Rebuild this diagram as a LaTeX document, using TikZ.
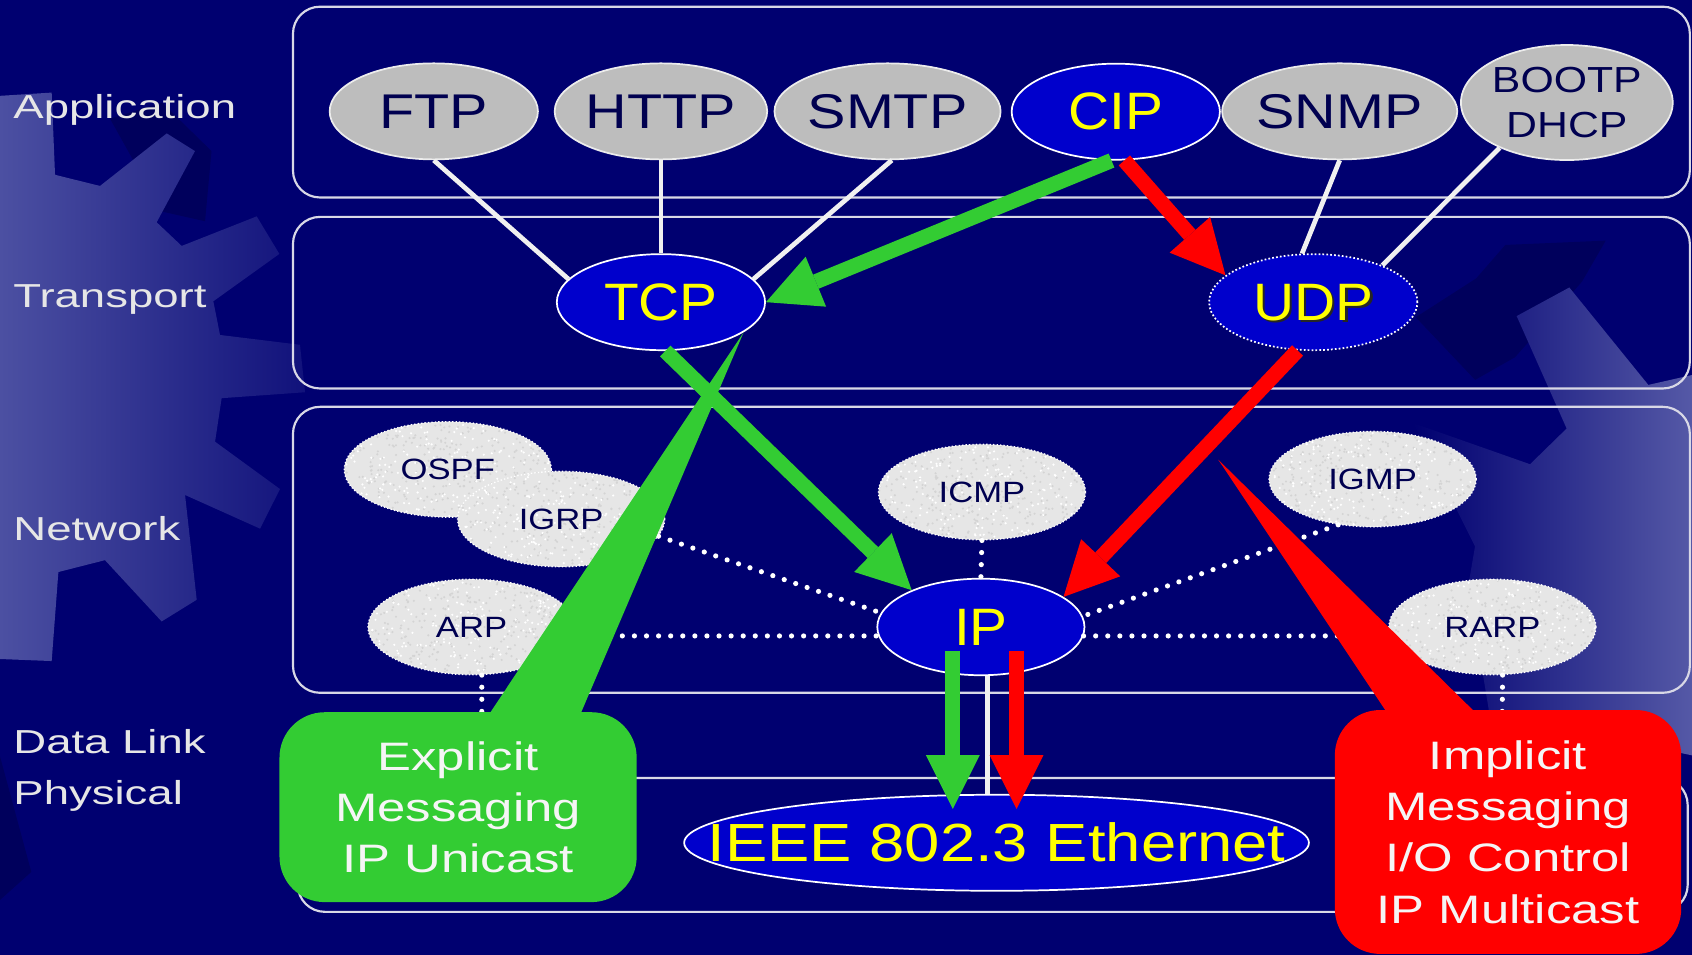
\documentclass[tikz,border=0pt]{standalone}
\usepackage{fontspec}
\setmainfont{Liberation Sans}
\newfontfamily\lblfont{Liberation Sans}[FakeStretch=1.37]
\newfontfamily\protofont{Liberation Sans}[FakeStretch=1.18]
\newfontfamily\corefont{Liberation Sans}[FakeStretch=1.08]
\newfontfamily\notefont{Liberation Sans}[FakeStretch=1.28]
\usetikzlibrary{shapes.geometric,arrows.meta,calc}

\definecolor{bg}{HTML}{000070}
\definecolor{bgdark}{HTML}{00005C}
\definecolor{gearlight}{HTML}{4C50A2}
\definecolor{framecol}{HTML}{D8D8E6}
\definecolor{appgray}{HTML}{BDBDBD}
\definecolor{netgray}{HTML}{E6E6E6}
\definecolor{corefill}{HTML}{0000CC}
\definecolor{navytext}{HTML}{000050}
\definecolor{grn}{HTML}{33CC33}
\definecolor{rd}{HTML}{FF0000}
\definecolor{ylw}{HTML}{FFFF00}
\definecolor{lblcol}{HTML}{E6E6E6}

% granite-like speckle inside a network protocol ellipse
\newcommand{\granite}[1]{%
  \begin{scope}
    \clip (#1.center) ellipse [x radius=47.6pt, y radius=21.8pt];
    \foreach \k in {1,...,320}{
      \fill[gray!34] ($(#1.center)+(rand*48pt,rand*22pt)$) circle [radius=0.55pt];
    }
    \foreach \k in {1,...,220}{
      \fill[white] ($(#1.center)+(rand*48pt,rand*22pt)$) circle [radius=0.55pt];
    }
  \end{scope}}

\begin{document}
\begin{tikzpicture}[x=0.5pt,y=-0.5pt,
  layerbox/.style={draw=framecol, line width=1pt, rounded corners=12.5pt},
  layerlabel/.style={text=lblcol, inner sep=0pt, anchor=base west,
    font=\lblfont\fontsize{15.4}{18}\selectfont},
  app/.style={ellipse, fill=appgray, draw=white!85!gray, line width=0.8pt,
    inner sep=0pt, minimum width=96.5pt, minimum height=44.5pt, text=navytext,
    font=\protofont\fontsize{22.6}{24}\selectfont},
  core/.style={ellipse, fill=corefill, draw=white, line width=0.8pt,
    inner sep=0pt, minimum width=96.5pt, minimum height=44.5pt, text=ylw,
    font=\corefont\fontsize{24.4}{26}\selectfont},
  coretext/.style={text=ylw, inner sep=0pt, font=\corefont\fontsize{24.4}{26}\selectfont},
  net/.style={ellipse, fill=netgray, draw=white, densely dotted, line width=0.6pt,
    inner sep=0pt, minimum width=96pt, minimum height=44.25pt},
  nettext/.style={text=navytext, inner sep=0pt, font=\protofont\fontsize{13.6}{15}\selectfont},
  ethtext/.style={text=ylw, inner sep=0pt, font=\protofont\fontsize{24.9}{26}\selectfont},
  wire/.style={draw=white!88!gray, line width=2.2pt},
  dotline/.style={draw=white, line width=2.4pt, line cap=round, dash pattern=on 0pt off 5.6pt},
  garrow/.style={draw=grn, line width=7pt,
    -{Triangle[length=25pt,width=25pt,line width=0pt]}},
  rarrow/.style={draw=rd, line width=7pt,
    -{Triangle[length=25pt,width=25pt,line width=0pt]}},
  note/.style={rounded corners=21pt, inner sep=0pt, align=center,
    text=white!92!gray, font=\notefont\fontsize{18.4}{23.75}\selectfont}
]
\pgfmathsetseed{4711}
\useasboundingbox (0,0) rectangle (1568,885);

% background and gear decoration
\fill[bg] (0,0) rectangle (1568,885);
\fill[bgdark] (1368,258) -- (1395,227) -- (1488,223) -- (1466,261) -- (1404,331)
  -- (1367,352) -- (1312,294) -- cycle;
\fill[bgdark] (0,701) -- (29,808) -- (0,834) -- cycle;
\fill[bgdark] (102,110) -- (150,95) -- (196,140) -- (190,205) -- (150,196) -- cycle;
\shade[left color=gearlight, right color=gearlight!22!bg]
  (0,88.8) -- (47.9,85.8) -- (51.0,162.0) -- (92.7,172.3) -- (154.5,123.6)
  -- (180.7,140.0) -- (145.2,206.0) -- (168.4,227.9) -- (237.9,200.5)
  -- (258.9,235.3) -- (197.7,279.2) -- (203.9,310.4) -- (278.0,319.5)
  -- (282.7,363.5) -- (205.4,369.0) -- (199.3,409.3) -- (259.5,453.2)
  -- (241.0,489.9) -- (171.5,458.7) -- (182.3,555.8) -- (149.8,575.9)
  -- (97.3,519.1) -- (54.1,530.1) -- (47.9,612.6) -- (0,610.7) -- cycle;
\shade[left color=bg, right color=gearlight!95!white]
  (1405.5,292.9) -- (1454.3,266.4) -- (1527.5,356.7) -- (1568,347.5)
  -- (1568,700) -- (1380,660) -- (1360.7,542.7) -- (1366.9,506.3)
  -- (1309.7,392.1) -- (1417.9,430.2) -- (1451.8,397.1) -- cycle;

% layer frames
\draw[layerbox] (271.5,6.2) rectangle (1566,183);
\draw[layerbox] (271.5,201) rectangle (1566,360);
\draw[layerbox] (271.5,377) rectangle (1566,642);
\draw[layerbox] (276,721) rectangle (1564,845);

% layer names
\node[layerlabel] (lApp) at (12,109.6) {Application};
\node[layerlabel] (lTra) at (12,284.7) {Transport};
\node[layerlabel] (lNet) at (12,500.8) {Network};
\node[layerlabel] (lDat) at (12,698.1) {Data Link};
\node[layerlabel] (lPhy) at (12,745.1) {Physical};

% application protocols
\node[app] (FTP) at (402,103.2) {FTP};
\node[app] (HTTP) at (612.5,103.2) {HTTP};
\node[app] (SMTP) at (822.5,103.2) {SMTP};
\node[core] (CIP) at (1034,103.5) {CIP};
\node[app] (SNMP) at (1241.5,103.2) {SNMP};
\node[app, minimum width=97pt, minimum height=53.3pt, align=center,
  font=\protofont\fontsize{16.8}{20.4}\selectfont] (BOOTP) at (1452,95) {BOOTP\\DHCP};

% transport protocols
\node[core] (TCP) at (612.5,280) {TCP};
\node[core, densely dotted] (UDP) at (1217,280) {};
\node[coretext, text=black!85] (UDPs) at ($(UDP.center)+(2.5,2.5)$) {UDP};
\node[coretext] (UDPt) at (UDP.center) {UDP};

% network protocols
\node[net] (OSPF) at (415,435) {};
\granite{OSPF}
\node[nettext] (OSPFt) at (OSPF.center) {OSPF};
\node[net] (IGRP) at (520,481) {};
\granite{IGRP}
\node[nettext] (IGRPt) at (IGRP.center) {IGRP};
\node[net] (ICMP) at (910,456) {};
\granite{ICMP}
\node[nettext] (ICMPt) at (ICMP.center) {ICMP};
\node[net] (IGMP) at (1272,444) {};
\granite{IGMP}
\node[nettext] (IGMPt) at (IGMP.center) {IGMP};
\node[net] (ARP) at (437,581) {};
\granite{ARP}
\node[nettext] (ARPt) at (ARP.center) {ARP};
\node[net] (RARP) at (1383,581) {};
\granite{RARP}
\node[nettext] (RARPt) at (RARP.center) {RARP};
\node[core, minimum width=96pt, minimum height=44.75pt] (IP) at (909,581) {IP};

% link layer
\node[core, minimum width=289.5pt, minimum height=44.5pt,
  label={[ethtext]center:IEEE 802.3 Ethernet}] (Eth) at (923.5,781) {};

% protocol wiring
\draw[wire] (FTP.south) -- (TCP.166);
\draw[wire] (HTTP.south) -- (TCP.north);
\draw[wire] (SMTP.-85) -- (TCP.14);
\draw[wire] (SNMP.south) -- (UDP.103);
\draw[wire] (BOOTP.-146) -- (UDP.28);
\draw[wire] ($(IP.south)+(6,0)$) -- ($(IP.south |- Eth.north)+(6,0)$);

\coordinate (arpdl) at (446.5,721);
\coordinate (rarpdl) at (1391.5,721);
\draw[dotline] (IGRP.-10) -- (IP.172);
\draw[dotline] (ARP.-5) -- (IP.185);
\draw[dotline] (IP.-5) -- (RARP.185);
\draw[dotline] (ICMP.south) -- (IP.north);
\draw[dotline] (IGMP.-127) -- (IP.6);
\draw[dotline] (ARP.-78) -- (arpdl);
\draw[dotline] (RARP.-78) -- (rarpdl);

% message paths
\draw[garrow] (CIP.-95) -- (TCP.east);
\draw[rarrow] (CIP.-80) -- (UDP.163);
\draw[garrow] (TCP.-85) -- (IP.152);
\draw[rarrow] (UDP.-108) -- (IP.20);
\draw[garrow] ($(IP.center)+(-26,22)$) -- ($(IP.center |- Eth.north)+(-26,14)$);
\draw[rarrow] ($(IP.center)+(33,22)$) -- ($(IP.center |- Eth.north)+(33,14)$);

% callouts
\node[note, fill=grn, minimum width=165.5pt, minimum height=88pt] (gnote)
  at (424.5,748) {Explicit\\Messaging\\IP Unicast};
\fill[grn] (TCP.-20) -- ($(gnote.north west)+(193.5,4)$)
  -- ($(gnote.north west)+(278.5,4)$) -- cycle;
\coordinate (rtip) at (1129,426);
\node[note, fill=rd, minimum width=160.5pt, minimum height=113pt] (rnote)
  at (1397.5,771) {Implicit\\Messaging\\I/O Control\\IP Multicast};
\fill[rd] (rtip) -- ($(rnote.north west)+(49.5,4)$)
  -- ($(rnote.north west)+(132,4)$) -- cycle;
\end{tikzpicture}
\end{document}
